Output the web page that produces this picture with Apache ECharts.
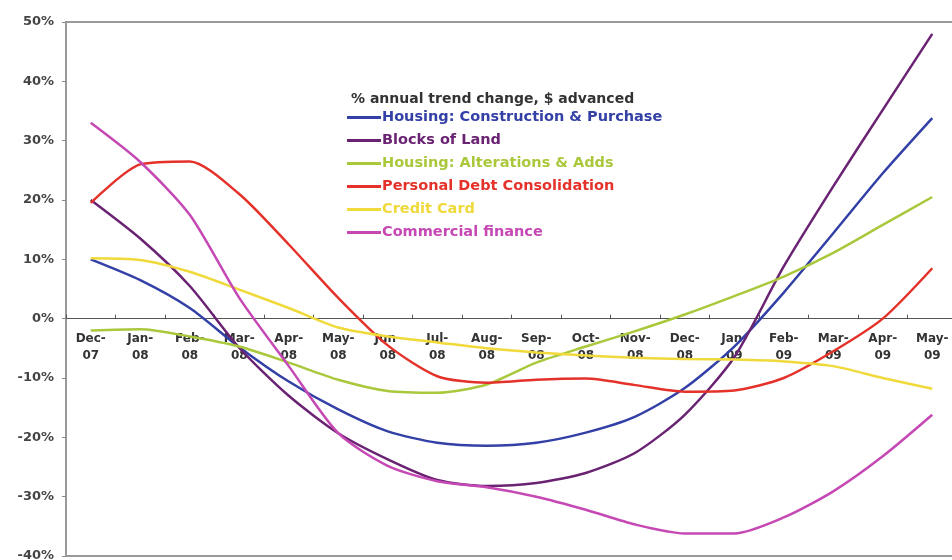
<!DOCTYPE html>
<html>
<head>
<meta charset="utf-8">
<script src="https://cdn.jsdelivr.net/npm/echarts@6/dist/echarts.min.js"></script>
<style>html,body{margin:0;padding:0;background:#fff;}#c{width:952px;height:560px;}</style>
</head>
<body>
<div id="c"></div>
<script>
const categories = ['Dec-\n07','Jan-\n08','Feb-\n08','Mar-\n08','Apr-\n08','May-\n08','Jun-\n08','Jul-\n08','Aug-\n08','Sep-\n08','Oct-\n08','Nov-\n08','Dec-\n08','Jan-\n09','Feb-\n09','Mar-\n09','Apr-\n09','May-\n09'];
const housingConstruction = [10, 6.5, 1.8, -4.8, -10.6, -15.3, -19, -20.9, -21.4, -20.9, -19.2, -16.5, -11.7, -4.7, 4.4, 14.4, 24.5, 33.8];
const blocksOfLand = [20, 13.5, 5.5, -4.9, -13, -19.3, -23.7, -27.2, -28.2, -27.7, -26, -22.6, -16.2, -6.5, 8.8, 22.3, 35.2, 48];
const housingAlterations = [-2, -1.8, -3, -4.7, -7.4, -10.3, -12.2, -12.5, -11.1, -7.4, -4.7, -2.1, 0.7, 3.8, 7.1, 11.1, 15.8, 20.5];
const personalDebt = [19.5, 26, 26.5, 21, 12.5, 3.5, -4.5, -9.7, -10.8, -10.3, -10.1, -11.2, -12.3, -12.1, -10, -5.5, 0, 8.5];
const creditCard = [10.2, 9.9, 7.9, 4.9, 1.8, -1.5, -3, -4, -5, -5.7, -6.2, -6.6, -6.8, -6.9, -7.2, -8, -10, -11.8];
const commercialFinance = [33, 26.4, 17.5, 3.5, -8, -19.3, -24.8, -27.4, -28.4, -30, -32.2, -34.7, -36.2, -36.2, -33.5, -29.1, -23.2, -16.2];
const yTicks = {min: -40, max: 50, interval: 10};
const legendTitle = '% annual trend change, $ advanced';

const seriesDefs = [
  {name: 'Housing: Construction & Purchase', data: housingConstruction, color: '#3340a6'},
  {name: 'Blocks of Land', data: blocksOfLand, color: '#6a2272'},
  {name: 'Housing: Alterations & Adds', data: housingAlterations, color: '#a9c83c'},
  {name: 'Personal Debt Consolidation', data: personalDebt, color: '#e4322b'},
  {name: 'Credit Card', data: creditCard, color: '#f0d93a'},
  {name: 'Commercial finance', data: commercialFinance, color: '#c548b4'}
];

const chart = echarts.init(document.getElementById('c'), null, {renderer: 'canvas'});
const font = 'DejaVu Sans';
const gridBottom = 4;
chart.setOption({
  animation: false,
  backgroundColor: '#fff',
  grid: {left: 66, right: -5, top: 22, bottom: gridBottom, containLabel: false, outerBoundsMode: 'none', show: true, borderColor: '#9a9a9a', borderWidth: 2, backgroundColor: 'transparent'},
  title: {text: legendTitle, left: 346, top: 87, textStyle: {fontFamily: font, fontSize: 14, fontWeight: 'bold', color: '#333'}},
  legend: {
    orient: 'vertical', left: 342, top: 105, itemWidth: 34, itemHeight: 3, itemGap: 8,
    icon: 'rect',
    textStyle: {fontFamily: font, fontSize: 14.5, fontWeight: 'bold', lineHeight: 14, padding: [0,0,0,-4]},
    data: seriesDefs.map(s => ({name: s.name, textStyle: {color: s.color}}))
  },
  xAxis: {
    type: 'category', data: categories, boundaryGap: true,
    axisLine: {onZero: false, lineStyle: {color: '#555', width: 1}},
    axisTick: {show: true, inside: true, length: 4, lineStyle: {color: '#555'}},
    axisLabel: {interval: 0, fontFamily: font, fontSize: 12, fontWeight: 'bold', color: '#333', lineHeight: 17, margin: 12},
    splitLine: {show: false}
  },
  yAxis: {
    type: 'value', min: yTicks.min, max: yTicks.max, interval: yTicks.interval,
    axisLine: {show: true, lineStyle: {color: '#9a9a9a', width: 2}},
    axisTick: {show: true, length: 4, lineStyle: {color: '#888'}},
    axisLabel: {formatter: '{value}%', fontFamily: font, fontSize: 13, fontWeight: 'bold', color: '#444', margin: 12},
    splitLine: {show: false}
  },
  series: seriesDefs.map(s => ({
    name: s.name, type: 'line', data: s.data, smooth: 0.25, symbol: 'none',
    lineStyle: {width: 2.5, color: s.color}, itemStyle: {color: s.color}
  }))
});
// place the category axis (line, ticks, labels) on the zero line
const zeroY = chart.convertToPixel({yAxisIndex: 0}, 0);
const bottomY = chart.getHeight() - gridBottom;
chart.setOption({xAxis: {offset: -(bottomY - zeroY)}});
</script>
</body>
</html>
